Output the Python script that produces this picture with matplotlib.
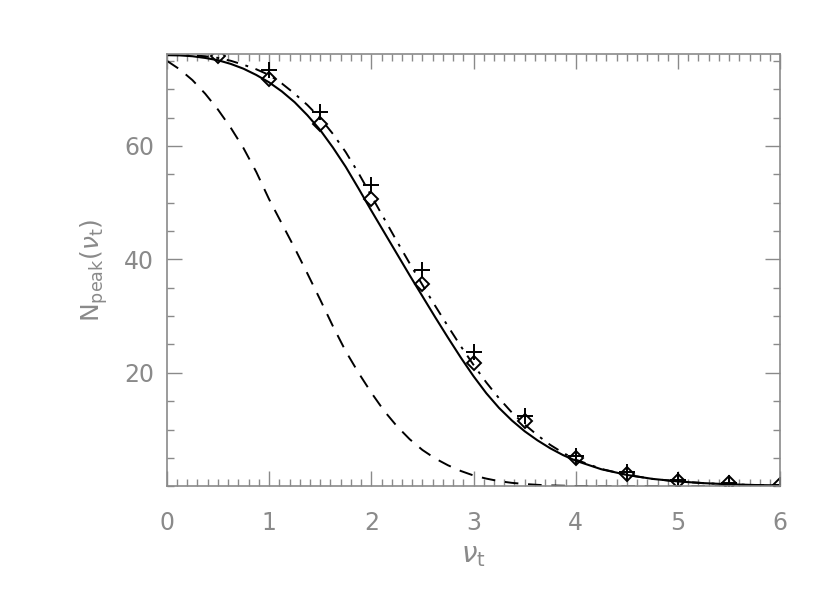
import numpy as np
import matplotlib
matplotlib.use("Agg")
import matplotlib.pyplot as plt
from matplotlib.ticker import MultipleLocator

# curves (same nu grid for all three)
nu_curve = [0.0, 0.125, 0.25, 0.375, 0.5, 0.625, 0.75, 0.875,
            1.0, 1.125, 1.25, 1.375, 1.5, 1.625, 1.75, 1.875,
            2.0, 2.125, 2.25, 2.375, 2.5, 2.625, 2.75, 2.875,
            3.0, 3.125, 3.25, 3.375, 3.5, 3.625, 3.75, 3.875,
            4.0, 4.25, 4.5, 4.75, 5.0, 5.25, 5.5, 5.75, 6.0]
n_solid = [76.0, 75.95, 75.8, 75.5, 75.1, 74.45, 73.6, 72.5,
           71.2, 69.6, 67.7, 65.4, 62.8, 59.7, 56.3, 52.5,
           48.6, 44.8, 41.0, 37.2, 33.5, 29.8, 26.2, 22.7,
           19.4, 16.4, 13.8, 11.6, 9.7, 8.1, 6.7, 5.5,
           4.5, 3.0, 2.0, 1.3, 0.85, 0.55, 0.35, 0.22, 0.15]
n_dashdot = [76.0, 76.0, 75.95, 75.8, 75.5, 75.0, 74.3, 73.5,
             72.5, 71.0, 69.2, 67.2, 64.9, 62.1, 58.9, 55.2,
             51.2, 47.2, 43.2, 39.3, 35.5, 31.8, 28.2, 24.7,
             21.4, 18.3, 15.5, 13.0, 10.9, 9.0, 7.3, 5.9,
             4.7, 3.05, 2.0, 1.3, 0.85, 0.55, 0.35, 0.22, 0.15]
n_dashed = [75.0, 73.5, 71.6, 69.2, 66.4, 63.2, 59.6, 55.4,
            50.6, 46.3, 42.0, 37.5, 32.9, 28.2, 23.8, 20.0,
            16.5, 13.3, 10.6, 8.3, 6.4, 4.9, 3.7, 2.7,
            1.9, 1.35, 0.9, 0.6, 0.4, 0.25, 0.15, 0.1,
            0.05, 0.0, 0.0, 0.0, 0.0, 0.0, 0.0, 0.0, 0.0]

# symbols
nu_diam = [0.5, 1.0, 1.5, 2.0, 2.5, 3.0, 3.5, 4.0, 4.5, 5.0, 5.5, 6.0]
n_diam = [75.9, 71.8, 63.9, 50.6, 35.6, 21.8, 11.5, 4.9, 2.1, 0.9, 0.5, 0.2]
nu_plus = [1.0, 1.5, 2.0, 2.5, 3.0, 3.5, 4.0, 4.5, 5.0, 5.5, 6.0]
n_plus = [73.4, 65.9, 53.1, 38.2, 23.7, 12.4, 5.3, 2.5, 1.1, 0.5, 0.2]

GREY = "#8a8a8a"

fig = plt.figure(figsize=(8.3, 5.93), dpi=100)
ax = fig.add_axes([0.201, 0.180, 0.739, 0.729])

ax.plot(nu_curve, n_solid, color="black", lw=1.5)
ax.plot(nu_curve, n_dashdot, color="black", lw=1.4, dashes=(6, 4, 1.5, 4))
ax.plot(nu_curve, n_dashed, color="black", lw=1.4, dashes=(7, 5))
ax.plot(nu_diam, n_diam, ls="none", marker="D", ms=7, mfc="none", mec="black", mew=1.4)
ax.plot(nu_plus, n_plus, ls="none", marker="+", ms=12, mec="black", mew=1.4)

ax.set_xlim(0, 6)
ax.set_ylim(0, 76.2)
ax.set_xticks([0, 1, 2, 3, 4, 5, 6])
ax.set_yticks([20, 40, 60])
ax.xaxis.set_minor_locator(MultipleLocator(0.1))
ax.yaxis.set_minor_locator(MultipleLocator(5))

for s in ax.spines.values():
    s.set_color(GREY)
    s.set_linewidth(1.2)
ax.tick_params(which="both", direction="in", top=True, right=True, colors=GREY,
               labelsize=17, width=1.0)
ax.tick_params(which="major", length=11)
ax.tick_params(which="minor", length=5)
ax.tick_params(axis="x", pad=18)
ax.tick_params(axis="y", pad=9)

ax.set_xlabel(r"$\nu_{\rm t}$", fontsize=20, color=GREY, labelpad=4)
ax.set_ylabel(r"N$_{\rm peak}$($\nu_{\rm t}$)", fontsize=18, color=GREY, labelpad=10)

fig.savefig("out.png", dpi=100)
